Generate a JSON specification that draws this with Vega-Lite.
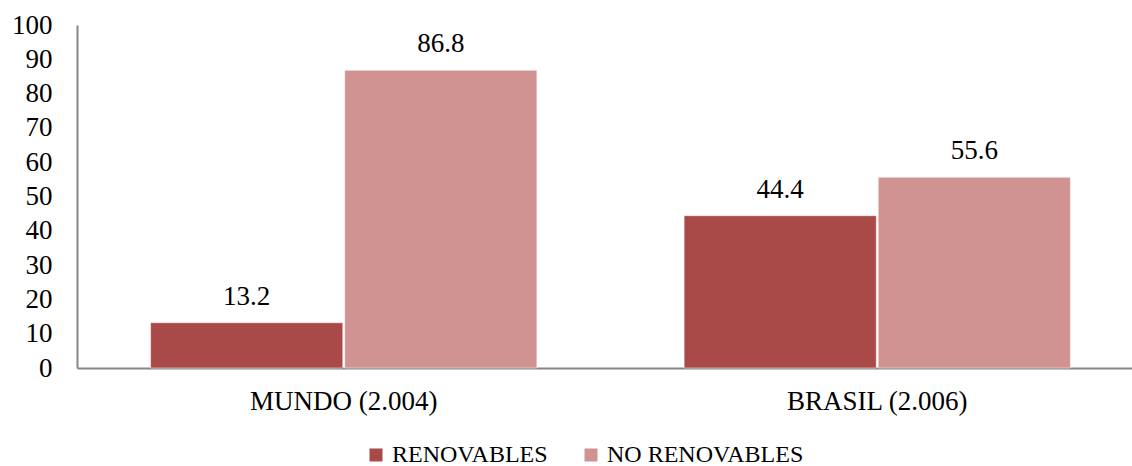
{
  "$schema": "https://vega.github.io/schema/vega-lite/v6.json",
  "autosize": {"type": "none"},
  "width": 1067,
  "height": 343,
  "padding": {"left": 77, "top": 25, "right": 0, "bottom": 98},
  "background": "white",
  "config": {
    "view": {"stroke": null},
    "font": "Liberation Serif",
    "axis": {
      "labelFont": "Liberation Serif",
      "labelFontSize": 27,
      "labelColor": "#000000",
      "labelLimit": 0,
      "domainColor": "#868686",
      "domainWidth": 2,
      "ticks": false,
      "tickSize": 0,
      "grid": false,
      "title": null
    },
    "legend": {
      "labelFont": "Liberation Serif",
      "labelFontSize": 24,
      "labelColor": "#000000",
      "labelLimit": 0
    }
  },
  "data": {
    "values": [
      {"region": "MUNDO (2.004)", "tipo": "RENOVABLES", "valor": 13.2},
      {"region": "MUNDO (2.004)", "tipo": "NO RENOVABLES", "valor": 86.8},
      {"region": "BRASIL (2.006)", "tipo": "RENOVABLES", "valor": 44.4},
      {"region": "BRASIL (2.006)", "tipo": "NO RENOVABLES", "valor": 55.6}
    ]
  },
  "encoding": {
    "x": {
      "field": "region",
      "type": "nominal",
      "sort": ["MUNDO (2.004)", "BRASIL (2.006)"],
      "scale": {"paddingInner": 0.276, "paddingOuter": 0.138},
      "axis": {"labelAngle": 0, "labelPadding": 20}
    },
    "xOffset": {
      "field": "tipo",
      "type": "nominal",
      "sort": ["RENOVABLES", "NO RENOVABLES"],
      "scale": {"paddingInner": 0.01}
    },
    "y": {
      "field": "valor",
      "type": "quantitative",
      "scale": {"domain": [0, 100], "nice": false},
      "axis": {
        "values": [0, 10, 20, 30, 40, 50, 60, 70, 80, 90, 100],
        "labelPadding": 25,
        "labelBaseline": "middle"
      }
    }
  },
  "layer": [
    {
      "mark": {"type": "bar", "stroke": "white", "strokeWidth": 0.5},
      "encoding": {
        "color": {
          "field": "tipo",
          "type": "nominal",
          "sort": ["RENOVABLES", "NO RENOVABLES"],
          "scale": {
            "domain": ["RENOVABLES", "NO RENOVABLES"],
            "range": ["#AA4A48", "#D09392"]
          },
          "legend": {
            "title": null,
            "orient": "none",
            "direction": "horizontal",
            "legendX": 287,
            "legendY": 418,
            "padding": 0,
            "symbolType": "square",
            "symbolSize": 169,
            "symbolStrokeWidth": 0,
            "labelOffset": 4,
            "columnPadding": 31
          }
        }
      }
    },
    {
      "mark": {
        "type": "text",
        "baseline": "bottom",
        "dy": -12,
        "fontSize": 27,
        "font": "Liberation Serif",
        "color": "#000000"
      },
      "encoding": {
        "text": {"field": "valor", "type": "quantitative", "format": ".1f"}
      }
    }
  ]
}
